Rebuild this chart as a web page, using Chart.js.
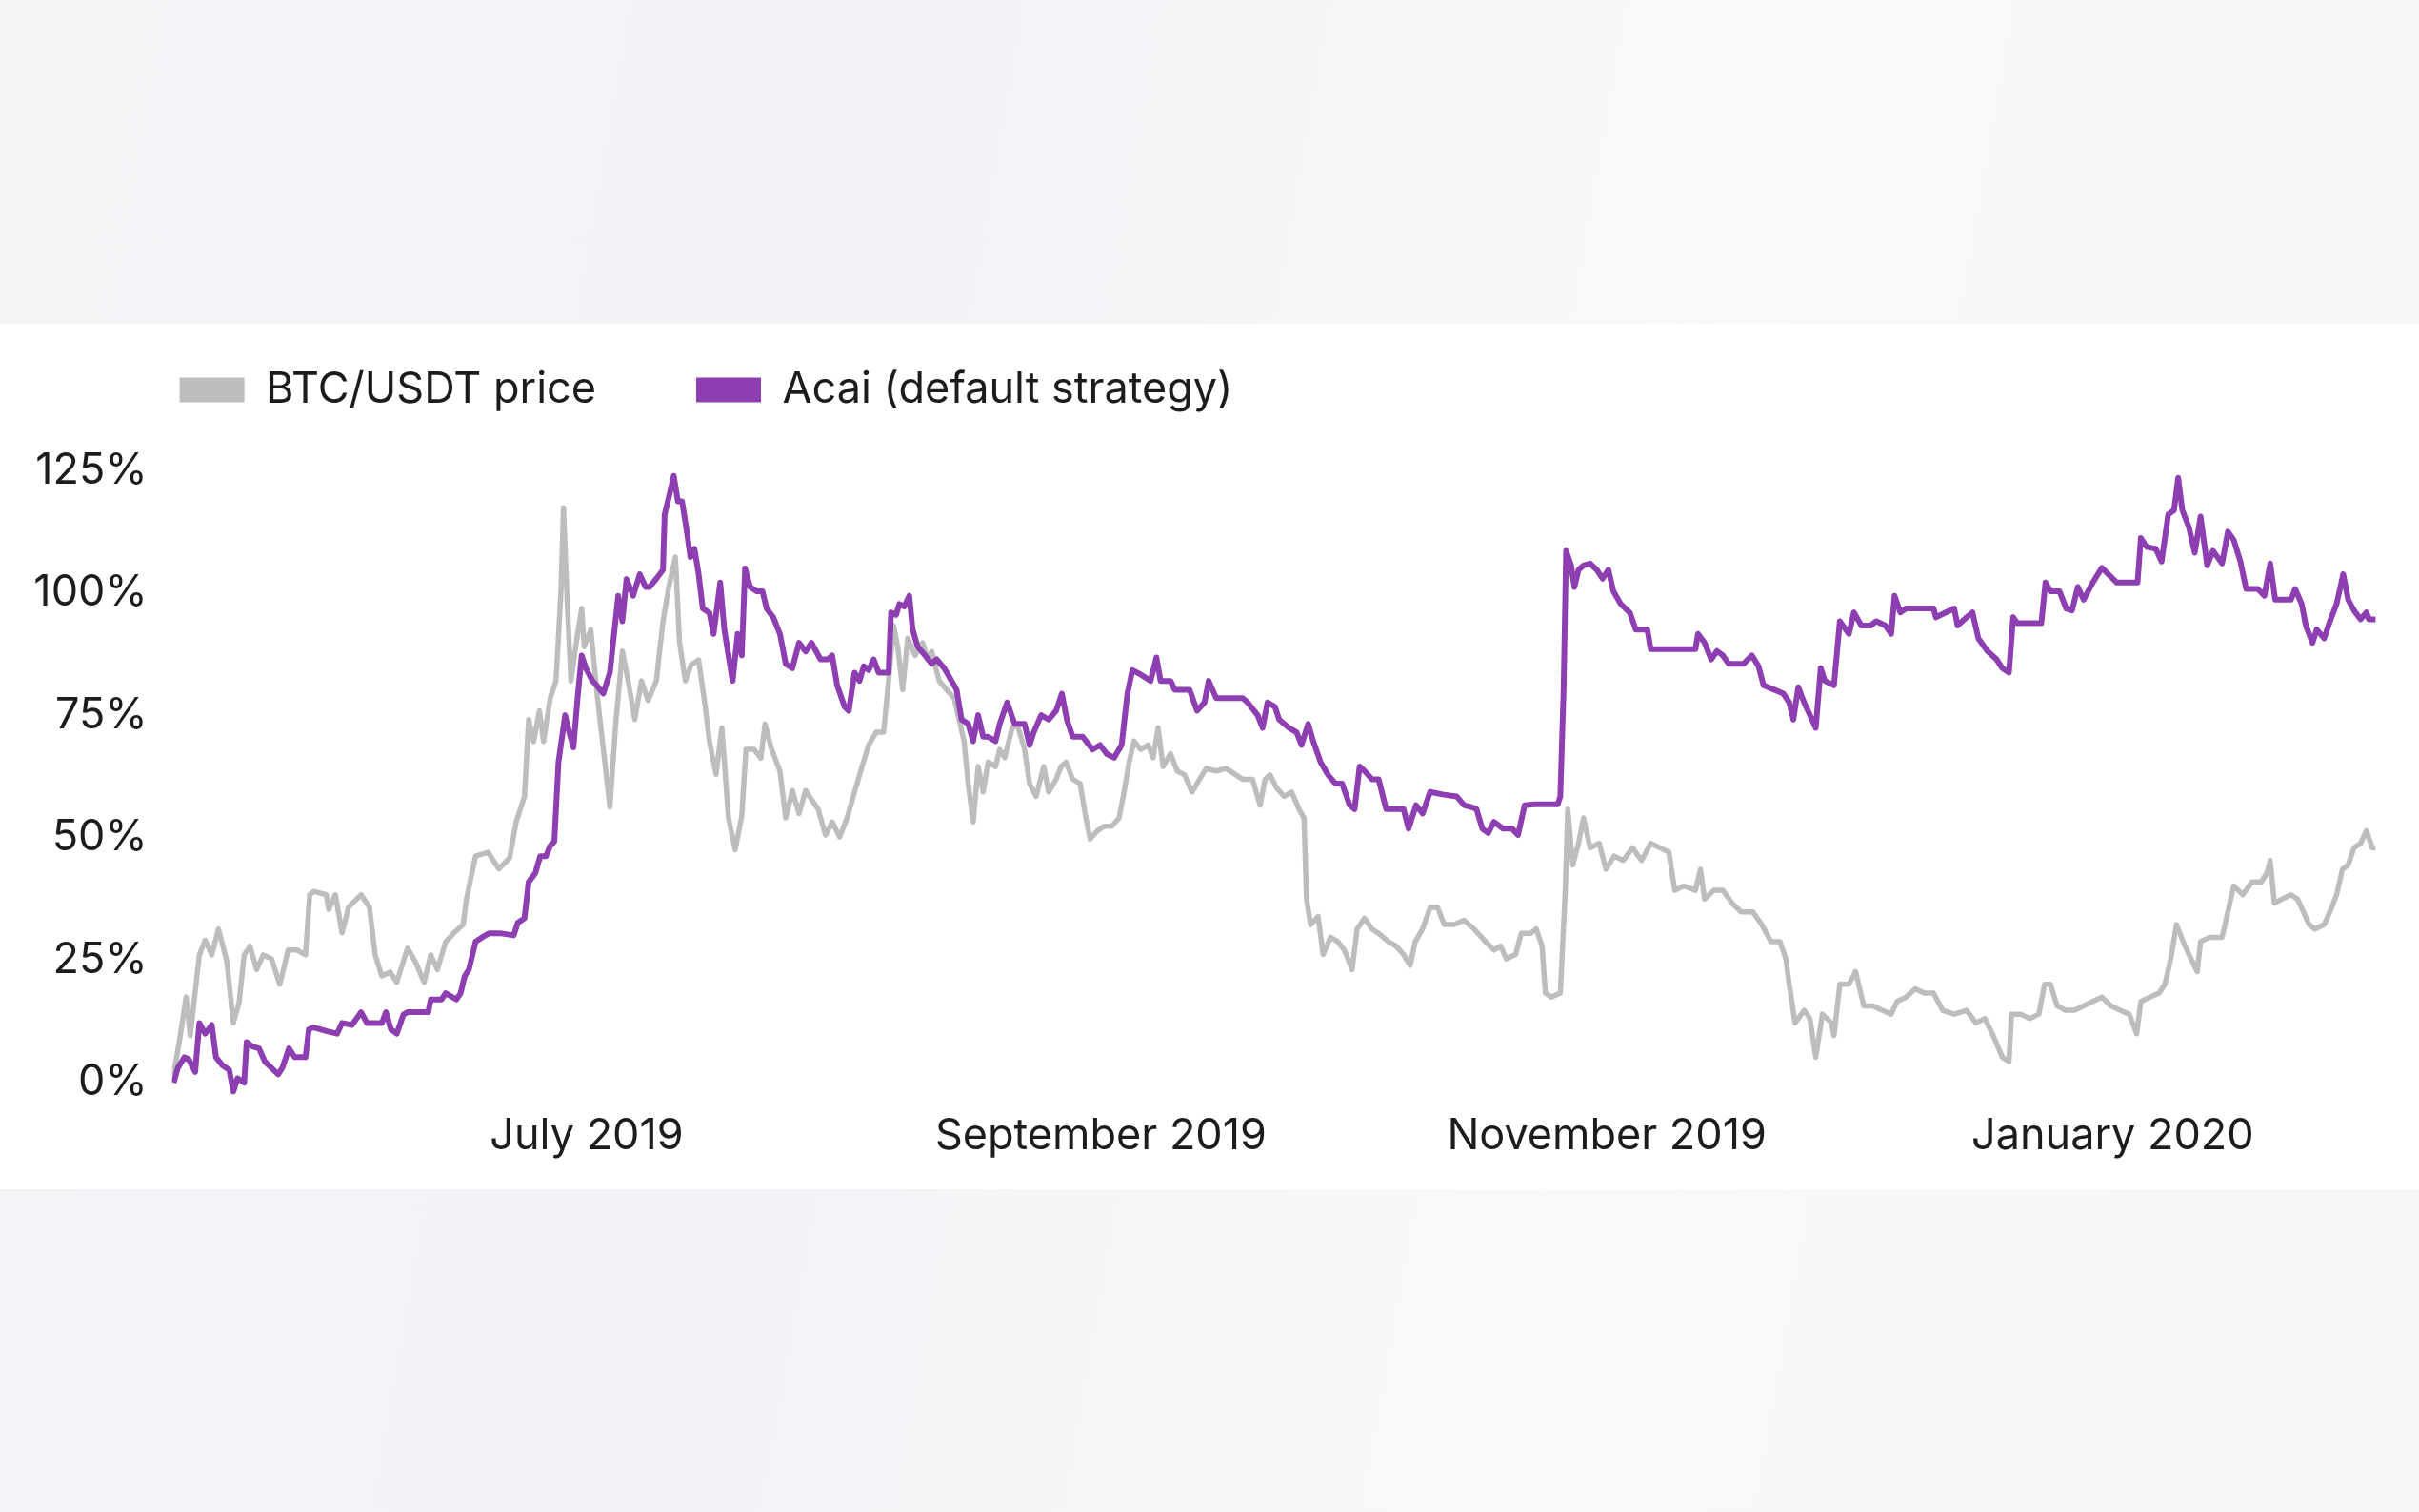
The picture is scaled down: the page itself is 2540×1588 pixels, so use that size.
<!DOCTYPE html>
<html>
<head>
<meta charset="utf-8">
<script src="https://cdn.jsdelivr.net/npm/chart.js@4.4.1/dist/chart.umd.min.js"></script>
<style>
  html, body { margin: 0; padding: 0; }
  body {
    width: 2540px;
    height: 1588px;
    overflow: hidden;
    position: relative;
    background: linear-gradient(100deg, #f5f4f7 0%, #f3f2f6 35%, #f9f9fa 65%, #f6f5f8 100%);
  }
  #band { position: absolute; left: 0; top: 340px; width: 2540px; height: 909px; background: #ffffff; }
  #chart { position: absolute; left: 0; top: 0; }
</style>
</head>
<body>
<div id="band"></div>
<canvas id="chart" width="2540" height="1588"></canvas>
<script>
// x values are days counted from 12 May 2019
const monthTickDays = [50, 112, 173, 234];
const monthTickLabels = ['July 2019', 'September 2019', 'November 2019', 'January 2020'];
const percentTicks = [0, 25, 50, 75, 100, 125];

const btcDays = [
    0.2, 1.0, 1.7, 2.2, 3.3, 4.0, 4.8, 5.6, 6.6, 7.4, 8.1, 8.7, 9.4, 10.2, 11.0, 12.0, 13.0, 14.0, 15.1, 16.1,
    16.6, 17.1, 18.6, 18.9, 19.7, 20.5, 21.3, 22.8, 23.8, 24.5, 25.3, 26.3, 27.1, 28.4, 29.4, 30.4, 31.2, 32.0, 33.0, 34.0,
    35.1, 35.5, 36.6, 38.1, 39.4, 40.7, 41.5, 42.5, 43.0, 43.6, 44.3, 44.8, 45.6, 46.3, 46.9, 47.2, 47.6, 48.1, 48.9, 49.4,
    49.7, 50.5, 51.2, 51.9, 52.8, 53.5, 54.3, 55.0, 55.8, 56.6, 57.4, 58.4, 59.2, 59.9, 60.7, 61.2, 61.9, 62.6, 63.5, 64.3,
    64.8, 65.6, 66.3, 67.1, 67.9, 68.7, 69.2, 70.2, 71.0, 71.5, 72.3, 73.3, 74.0, 74.8, 75.6, 76.4, 77.1, 77.9, 78.8, 79.6,
    80.5, 81.4, 82.3, 83.2, 84.0, 84.9, 85.8, 86.4, 87.0, 87.5, 88.1, 88.7, 89.6, 90.5, 91.1, 91.6, 92.5, 93.4, 94.3, 94.9,
    95.5, 96.0, 96.6, 97.2, 97.8, 98.4, 99.3, 99.8, 100.4, 101.3, 101.9, 102.8, 103.4, 104.2, 105.1, 105.7, 106.6, 107.2, 107.8, 108.6,
    109.5, 110.1, 110.7, 111.6, 112.4, 113.3, 114.2, 114.8, 115.4, 116.0, 116.8, 117.7, 118.3, 118.9, 119.5, 120.4, 121.2, 122.1, 123.0, 123.9,
    124.7, 125.9, 127.1, 128.3, 129.1, 130.3, 131.2, 131.8, 132.4, 133.2, 134.1, 135.0, 135.9, 136.5, 136.8, 137.3, 138.2, 138.8, 139.7, 140.6,
    141.4, 142.3, 142.9, 143.8, 144.7, 145.5, 146.7, 147.6, 148.5, 149.3, 149.9, 150.8, 151.7, 152.6, 153.4, 154.6, 155.8, 157.0, 158.4, 159.4,
    160.2, 160.9, 162.0, 162.7, 163.8, 164.5, 165.2, 165.6, 166.3, 167.4, 168.0, 168.3, 168.9, 169.6, 170.2, 171.0, 172.1, 172.9, 173.9, 175.0,
    176.1, 177.2, 178.3, 179.4, 180.5, 181.2, 182.3, 183.7, 184.3, 184.8, 185.9, 187.0, 188.1, 189.2, 190.6, 191.7, 192.8, 193.9, 194.6, 195.0,
    195.7, 196.8, 197.5, 198.2, 199.0, 200.1, 200.4, 201.1, 202.2, 203.0, 204.0, 205.1, 206.2, 207.3, 208.0, 209.1, 210.2, 211.3, 212.4, 213.5,
    214.9, 216.4, 217.5, 218.6, 219.6, 220.7, 221.5, 221.8, 222.9, 224.0, 225.1, 225.8, 226.5, 227.3, 228.3, 229.4, 230.5, 231.6, 232.7, 233.8,
    234.9, 236.0, 236.9, 237.4, 238.5, 239.6, 240.3, 241.0, 241.7, 242.5, 243.2, 244.2, 244.6, 245.7, 247.2, 247.9, 248.6, 249.7, 250.8, 251.9,
    252.6, 253.0, 253.5, 254.4, 255.5, 256.3, 257.0, 257.7, 258.4, 259.5, 260.2, 261.0, 261.7, 262.4, 263.1, 263.9, 264.6, 265.3, 265.7
];
const btcValues = [
    1.6, 9.5, 17.4, 9.5, 26, 29, 26, 31.3, 24.8, 12.1, 16.4, 26, 27.8, 23, 26, 25.2, 20, 27, 27, 26,
    38.3, 39, 38.3, 35.3, 38.3, 30.5, 35.8, 38.3, 35.8, 26, 21.7, 22.5, 20.4, 27.4, 24.4, 20.4, 26, 23, 28.7, 30.5,
    32.2, 37.4, 46.2, 47, 43.6, 45.8, 53.2, 58.4, 74.1, 69.6, 75.9, 69.6, 78.5, 82, 100.3, 117.4, 100.3, 82, 91.6, 96.8,
    89, 92.5, 80.2, 69.7, 56.2, 73.2, 88.1, 82, 74.1, 82, 78, 82, 94.2, 101.2, 107.3, 89.8, 82, 85.3, 86.3, 76.7,
    69.6, 62.9, 72.4, 54, 47.5, 54.4, 68, 68, 66.2, 73.2, 68, 63.6, 54, 59.6, 54.9, 59.6, 57.8, 55.8, 50.5, 53.2,
    50.1, 54, 59.3, 64.5, 68.9, 71.5, 71.5, 82, 93.3, 89, 80.2, 90.7, 87.2, 89.8, 86.4, 88, 82, 80.2, 78.5, 74.1,
    69.7, 61, 53.2, 64.5, 59.3, 65.4, 64.5, 68, 66.3, 72.4, 73.2, 68, 61, 58.4, 64.5, 59.3, 61.9, 64.5, 65.4, 61.9,
    61, 54.9, 49.7, 51.4, 52.3, 52.3, 54, 59.3, 65.4, 69.7, 68, 68.9, 66.3, 72.4, 64.5, 67.1, 63.6, 62.8, 59.3, 61.9,
    64.1, 63.6, 64.1, 62.8, 61.9, 61.9, 56.6, 61.9, 62.8, 60.1, 58.4, 59.3, 55.8, 54, 37.4, 32.2, 33.9, 26.1, 29.6, 28.7,
    26.9, 23, 31.3, 33.5, 31.3, 30.4, 28.7, 27.8, 26.1, 23.9, 28.7, 31.3, 35.7, 35.7, 32.2, 32.2, 33.1, 31.3, 28.7, 27,
    27.8, 25.2, 26.1, 30.4, 30.4, 31.3, 27.8, 18.2, 17.4, 18.2, 39.2, 55.8, 44.4, 48.8, 54, 47.9, 48.8, 43.5, 46.2, 45.3,
    47.9, 45.3, 48.8, 47.9, 47, 39.2, 40.1, 39.2, 43.5, 37.4, 39.2, 39.2, 36.6, 34.8, 34.8, 32.2, 28.7, 28.7, 25.2, 20,
    12.1, 14.7, 13, 5.1, 13.9, 12.1, 9.5, 20, 20, 22.6, 15.6, 15.6, 14.7, 13.9, 16.5, 17.4, 19.1, 18.2, 18.2, 14.7,
    13.9, 14.7, 12.1, 13, 9.5, 5.1, 4.2, 13.9, 13.9, 13, 13.9, 20, 20, 15.6, 14.7, 14.7, 15.6, 16.5, 17.4, 15.6,
    14.7, 13.9, 9.9, 16.5, 17.4, 18.2, 20, 25.2, 32.2, 28.7, 26.1, 22.6, 28.7, 29.6, 29.6, 34.8, 40.1, 38.3, 40.9, 40.9,
    42.7, 45.3, 36.6, 37.4, 38.3, 37.4, 34.8, 32.2, 31.3, 32.2, 34.8, 38.3, 43.5, 44.4, 47.9, 48.8, 51.4, 47.9, 47.9
];

const acaiDays = [
    0.2, 0.7, 1.5, 2.0, 2.8, 3.3, 4.0, 4.8, 5.3, 6.1, 6.9, 7.4, 7.9, 8.7, 9.0, 9.7, 10.5, 11.2, 12.0, 12.8,
    13.3, 14.1, 14.8, 16.1, 16.5, 17.1, 18.7, 19.9, 20.5, 21.7, 22.8, 23.5, 25.3, 25.8, 26.4, 27.1, 27.9, 28.4, 30.9, 31.2,
    32.5, 33.0, 34.3, 34.8, 35.3, 35.8, 36.6, 37.4, 38.2, 39.7, 41.2, 41.7, 42.5, 43.0, 43.8, 44.4, 45.1, 45.6, 46.1, 46.6,
    47.4, 47.9, 48.4, 48.9, 49.4, 49.9, 50.7, 51.2, 52.0, 52.8, 53.3, 53.8, 54.3, 54.8, 55.6, 56.4, 57.1, 57.6, 58.4, 59.2,
    59.4, 59.9, 60.5, 61.0, 61.5, 62.0, 62.5, 63.0, 63.5, 64.0, 64.8, 65.3, 66.1, 66.6, 67.1, 67.6, 68.2, 68.7, 69.1, 69.7,
    70.5, 71.2, 71.7, 72.5, 73.3, 74.0, 74.8, 75.6, 76.4, 77.1, 78.2, 79.1, 79.6, 80.2, 81.1, 81.6, 82.3, 82.9, 83.4, 84.0,
    84.6, 85.2, 86.4, 86.7, 87.3, 87.7, 88.3, 88.9, 89.3, 89.9, 90.8, 91.6, 92.2, 93.1, 93.7, 94.6, 95.2, 96.0, 96.6, 97.2,
    97.8, 98.4, 99.3, 99.8, 100.7, 101.6, 102.8, 103.4, 103.9, 104.8, 105.7, 106.6, 107.3, 107.9, 108.6, 109.8, 111.0, 111.9, 112.7, 113.6,
    114.5, 115.2, 115.8, 116.8, 118.0, 118.7, 119.2, 120.4, 120.9, 122.7, 123.6, 124.5, 125.0, 125.9, 129.1, 129.7, 130.9, 131.5, 132.1, 133.0,
    133.5, 134.7, 135.6, 136.2, 137.0, 137.6, 138.5, 139.4, 140.3, 141.1, 142.0, 142.6, 143.2, 143.8, 144.7, 145.5, 146.4, 148.5, 149.1, 150.0,
    150.8, 151.7, 153.2, 154.9, 155.8, 156.7, 157.3, 158.0, 158.7, 159.4, 160.5, 161.6, 162.3, 163.1, 164.2, 167.1, 167.4, 167.8, 168.1, 168.7,
    169.1, 169.6, 170.2, 171.0, 171.8, 172.5, 173.2, 173.8, 174.7, 175.8, 176.5, 177.9, 178.3, 183.7, 184.0, 184.8, 185.6, 186.3, 187.0, 187.7,
    189.5, 190.5, 191.3, 191.9, 193.2, 194.3, 195.0, 195.5, 196.1, 196.8, 197.5, 198.2, 198.8, 199.3, 200.4, 201.1, 202.2, 202.8, 203.7, 204.8,
    205.5, 206.6, 207.3, 207.7, 208.4, 209.1, 212.4, 212.7, 214.9, 215.3, 216.4, 217.1, 217.8, 218.9, 220.0, 220.7, 221.5, 222.0, 222.5, 225.4,
    225.9, 226.5, 227.6, 228.4, 229.1, 229.8, 230.5, 231.6, 232.7, 234.5, 237.0, 237.4, 238.1, 239.2, 239.9, 240.7, 241.4, 241.9, 242.4, 243.2,
    243.9, 244.6, 245.4, 246.1, 247.2, 247.9, 248.6, 249.4, 250.1, 251.5, 252.3, 253.0, 253.6, 255.5, 256.0, 256.8, 257.3, 258.1, 258.6, 259.5,
    260.2, 261.0, 261.8, 262.4, 263.1, 263.9, 264.6, 264.9, 265.7
];
const acaiValues = [
    -0.1, 2.9, 5.1, 4.7, 2.1, 12.1, 9.9, 11.7, 5.1, 3.4, 2.5, -1.9, 0.8, -0.1, 8.2, 7.3, 6.9, 4.2, 2.9, 1.6,
    2.9, 6.9, 5.1, 5.1, 10.8, 11.2, 10.4, 9.9, 12.1, 11.7, 14.3, 12.1, 12.1, 14.3, 10.8, 9.9, 13.8, 14.3, 14.3, 16.9,
    16.9, 18.2, 16.9, 18.2, 21.7, 23, 28.7, 29.6, 30.4, 30.4, 30, 32.6, 33.5, 40.9, 42.7, 46.2, 46.2, 48.3, 49.2, 65.4,
    75, 71.5, 68.4, 78.5, 87.2, 84.6, 82, 81.1, 79.4, 83.7, 91.6, 99.4, 94.2, 102.8, 99.4, 103.8, 101.2, 101.2, 102.9, 104.7,
    116, 119.5, 123.9, 118.7, 118.7, 113.4, 107.3, 109, 103.8, 96.8, 95.9, 91.6, 102.1, 92.5, 87.2, 82, 91.6, 87.2, 105, 101.2,
    100.3, 100.3, 96.8, 95, 91.6, 85.5, 84.6, 89.8, 88, 89.8, 86.4, 86.4, 87.2, 81.1, 76.7, 75.9, 83.7, 82, 85, 84.2,
    86.4, 83.7, 83.7, 96, 95.5, 97.7, 97.2, 99.4, 92.5, 89, 87.2, 85.5, 86.4, 84.6, 82.9, 80.2, 74.1, 73.2, 69.7, 75,
    70.6, 70.6, 69.7, 73.2, 77.6, 73.2, 73.2, 68.9, 71.5, 75, 74.1, 75.9, 79.4, 74.1, 70.6, 70.6, 68, 68.9, 67.1, 66.3,
    68.9, 79.4, 84.2, 83.3, 82, 86.8, 82, 82, 80.2, 80.2, 75.9, 77.6, 82, 78.5, 78.5, 77.6, 75, 72.4, 77.6, 76.7,
    74.1, 72.4, 71.5, 68.9, 73.2, 69.7, 65.4, 62.8, 61, 61, 56.6, 55.8, 64.5, 63.6, 61.9, 61.9, 55.8, 55.8, 51.8, 56.6,
    54.9, 59.3, 58.8, 58.4, 56.6, 56.2, 55.8, 51.8, 50.9, 53.2, 51.8, 51.8, 50.5, 56.6, 56.8, 56.8, 58.4, 80.2, 108.6, 105.6,
    101.2, 104.7, 105.6, 106, 104.7, 102.9, 104.7, 100.3, 97.7, 95.9, 92.5, 92.5, 88.5, 88.5, 91.6, 89.8, 86.4, 88.1, 87.2, 85.5,
    85.5, 87.2, 85, 81.1, 80.2, 79.4, 77.6, 74.1, 80.7, 77.6, 75, 72.4, 84.6, 82, 81.1, 94.2, 91.6, 96, 93.3, 93.3,
    94.2, 93.3, 91.6, 99.4, 96, 96.8, 96.8, 95, 96.8, 93.3, 95, 96, 90.7, 88.1, 86.4, 84.6, 83.7, 95, 93.8, 93.8,
    102.1, 100.3, 100.3, 96.8, 96.4, 101.2, 98.6, 102.1, 105.1, 102.1, 102.1, 111.2, 109.4, 109, 106.4, 116, 116.9, 123.5, 116.9, 113.4,
    108.2, 115.6, 105.6, 108.6, 106, 112.5, 110.8, 106.4, 100.8, 100.8, 99.4, 106, 98.6, 98.6, 100.8, 97.7, 93.3, 89.8, 92.5, 90.7,
    94.2, 97.7, 103.8, 98.6, 96.4, 94.6, 96, 94.6, 94.6
];

const fontFamily = 'Inter, "DejaVu Sans", sans-serif';
const fontSize = 45;
const textColor = '#1c1c1c';
const btcColor = '#bdbdbd';
const acaiColor = '#8d3fb2';

function toPoints(days, values) {
    return days.map((day, i) => ({ x: day, y: values[i] }));
}

// legend sits on its own row above the plot and starts where the lines start
const legendPlacement = {
    id: 'legendPlacement',
    beforeInit(chart) {
        const fitLegend = chart.legend.fit;
        chart.legend.fit = function () {
            fitLegend.call(this);
            this.height += 47;
        };
    },
    afterLayout(chart) {
        const legend = chart.legend;
        legend.left = chart.chartArea.left + 8 - legend.options.labels.padding;
    }
};

const ctx = document.getElementById('chart').getContext('2d');

new Chart(ctx, {
    type: 'line',
    data: {
        datasets: [{
            label: 'BTC/USDT price',
            data: toPoints(btcDays, btcValues),
            borderColor: btcColor,
            backgroundColor: btcColor,
            borderWidth: 5.5,
            order: 1
        }, {
            label: 'Acai (default strategy)',
            data: toPoints(acaiDays, acaiValues),
            borderColor: acaiColor,
            backgroundColor: acaiColor,
            borderWidth: 6,
            order: 0
        }]
    },
    options: {
        responsive: false,
        animation: false,
        layout: {
            padding: { top: 282, left: 0, right: 43, bottom: 362 }
        },
        elements: {
            point: { radius: 0 },
            line: { tension: 0, borderJoinStyle: 'round' }
        },
        plugins: {
            legend: {
                align: 'start',
                labels: {
                    boxWidth: 68,
                    boxHeight: 26,
                    padding: 105,
                    color: textColor,
                    font: { family: fontFamily, size: fontSize },
                    sort: (a, b) => a.datasetIndex - b.datasetIndex,
                    generateLabels: chart => Chart.defaults.plugins.legend.labels.generateLabels(chart)
                        .map(item => ({ ...item, lineWidth: 0 }))
                }
            },
            tooltip: { enabled: false }
        },
        scales: {
            x: {
                type: 'linear',
                min: 0,
                max: 266,
                grid: { display: false },
                border: { display: false },
                afterBuildTicks: scale => {
                    scale.ticks = monthTickDays.map(day => ({ value: day }));
                },
                ticks: {
                    padding: 6,
                    autoSkip: false,
                    maxRotation: 0,
                    color: textColor,
                    font: { family: fontFamily, size: fontSize },
                    callback: (value, index) => monthTickLabels[index]
                }
            },
            y: {
                min: -3,
                max: 126,
                grid: { display: false },
                border: { display: false },
                afterBuildTicks: scale => {
                    scale.ticks = percentTicks.map(v => ({ value: v }));
                },
                afterFit: scale => {
                    scale.width = 180.6;
                },
                ticks: {
                    padding: 18,
                    color: textColor,
                    font: { family: fontFamily, size: fontSize },
                    callback: value => value + '%'
                }
            }
        }
    },
    plugins: [legendPlacement]
});
</script>
</body>
</html>
